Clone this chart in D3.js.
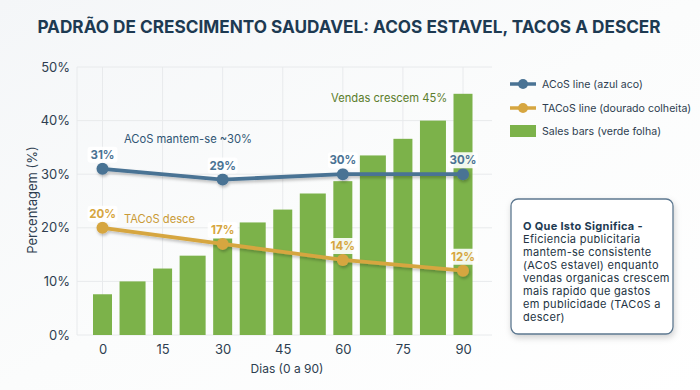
<!DOCTYPE html>
<html>
<head>
<meta charset="utf-8">
<script src="https://cdn.jsdelivr.net/npm/d3@7"></script>
<style>
html,body{margin:0;padding:0;}
body{width:700px;height:390px;overflow:hidden;background:#fff;}
svg{display:block;font-family:Inter,"Open Sans",sans-serif;}
</style>
</head>
<body>
<svg id="c" width="700" height="390"></svg>
<script>
// ---- data ----
const title = "PADRÃO DE CRESCIMENTO SAUDAVEL: ACOS ESTAVEL, TACOS A DESCER";
const barDays = [0, 7.5, 15, 22.5, 30, 37.5, 45, 52.5, 60, 67.5, 75, 82.5, 90];
const salesValues = [7.6, 10.0, 12.4, 14.8, 18.0, 21.0, 23.4, 26.4, 28.7, 33.5, 36.6, 40.0, 45.0];
const lineDays = [0, 30, 60, 90];
const acosValues = [31, 29, 30, 30];
const tacosValues = [20, 17, 14, 12];
const xTicks = [0, 15, 30, 45, 60, 75, 90];
const yTicks = [0, 10, 20, 30, 40, 50];
const legendLabels = ["ACoS line (azul aco)", "TACoS line (dourado colheita)", "Sales bars (verde folha)"];
const boxTitle = "O Que Isto Significa -";
const boxLines = ["Eficiencia publicitaria", "mantem-se consistente", "(ACoS estavel) enquanto", "vendas organicas crescem", "mais rapido que gastos", "em publicidade (TACoS a", "descer)"];

// ---- style ----
const C = {acos:"#4a7394", tacos:"#d6a640", bar:"#7cb24a", title:"#1d3a52", text:"#2e3e50", grid:"#e8eaec"};
const svg = d3.select("#c");
const defs = svg.append("defs");
const bg = defs.append("linearGradient").attr("id","bg").attr("x1","0").attr("y1","0").attr("x2","1").attr("y2","1");
bg.append("stop").attr("offset","0").attr("stop-color","#f4f6f8");
bg.append("stop").attr("offset","0.5").attr("stop-color","#fbfcfc");
bg.append("stop").attr("offset","1").attr("stop-color","#ffffff");
const sh = defs.append("filter").attr("id","sh").attr("x","-20%").attr("y","-50%").attr("width","140%").attr("height","200%");
sh.append("feDropShadow").attr("dx",1).attr("dy",2).attr("stdDeviation",1.6).attr("flood-color","#000").attr("flood-opacity",0.25);
const bsh = defs.append("filter").attr("id","bsh").attr("x","-20%").attr("y","-20%").attr("width","140%").attr("height","140%");
bsh.append("feDropShadow").attr("dx",1).attr("dy",3).attr("stdDeviation",3).attr("flood-color","#000").attr("flood-opacity",0.18);

svg.append("rect").attr("width",700).attr("height",390).attr("fill","url(#bg)");

const L = 77, R = 492;
const x = d3.scaleLinear().domain([0,90]).range([102.5,463]);
const y = d3.scaleLinear().domain([0,50]).range([335,67]);

// title
svg.append("text").attr("x",349).attr("y",33).attr("text-anchor","middle")
  .attr("font-size",17.2).attr("font-weight",700).attr("fill",C.title).text(title);

// grid
const g = svg.append("g");
g.selectAll(".hg").data(yTicks).join("line")
  .attr("x1",L).attr("x2",R).attr("y1",d=>y(d)).attr("y2",d=>y(d))
  .attr("stroke",C.grid).attr("stroke-width",1);
g.selectAll(".vg").data(xTicks).join("line")
  .attr("x1",d=>x(d)).attr("x2",d=>x(d)).attr("y1",y(50)).attr("y2",y(0))
  .attr("stroke",C.grid).attr("stroke-width",1);
g.append("line").attr("x1",L).attr("x2",L).attr("y1",y(50)).attr("y2",y(0)).attr("stroke",C.grid);

// axes
const yAxis = d3.axisLeft(y).tickValues(yTicks).tickFormat(d=>d+"%").tickSize(0).tickPadding(7);
const ya = svg.append("g").attr("transform",`translate(${L},0)`).call(yAxis);
const xAxis = d3.axisBottom(x).tickValues(xTicks).tickSize(0).tickPadding(10);
const xa = svg.append("g").attr("transform",`translate(0,${y(0)})`).call(xAxis);
[ya,xa].forEach(a=>{a.select(".domain").remove();
  a.selectAll("text").attr("font-size",13).attr("fill",C.text).attr("font-family","Inter,sans-serif");});

svg.append("text").attr("transform","translate(37,200) rotate(-90)").attr("text-anchor","middle")
  .attr("font-size",13).attr("fill",C.text).text("Percentagem (%)");
svg.append("text").attr("x",287).attr("y",373).attr("text-anchor","middle")
  .attr("font-size",12).attr("fill",C.text).text("Dias (0 a 90)");

// bars
svg.append("g").selectAll("rect").data(barDays).join("rect")
  .attr("x",(d)=>x(d)-(d%15===0?9.5:13))
  .attr("width",d=>d%15===0?19:26)
  .attr("y",(d,i)=>y(salesValues[i]))
  .attr("height",(d,i)=>y(0)-y(salesValues[i]))
  .attr("fill",C.bar);

// annotations
svg.append("text").attr("x",124).attr("y",143).attr("font-size",11.2).attr("fill","#2f5574").text("ACoS mantem-se ~30%");
svg.append("text").attr("x",124).attr("y",223).attr("font-size",11.2).attr("fill","#c99a36").text("TACoS desce");
svg.append("text").attr("x",331).attr("y",102).attr("font-size",11.2).attr("fill","#5c7d2c").text("Vendas crescem 45%");

// lines
function drawSeries(vals,color){
  const line = d3.line().x((d,i)=>x(lineDays[i])).y(d=>y(d));
  const gg = svg.append("g").attr("filter","url(#sh)");
  gg.append("path").datum(vals).attr("d",line).attr("fill","none").attr("stroke",color).attr("stroke-width",3.8);
  gg.selectAll("circle").data(vals).join("circle")
    .attr("cx",(d,i)=>x(lineDays[i])).attr("cy",d=>y(d)).attr("r",6).attr("fill",color);
  const lg = svg.append("g");
  vals.forEach((v,i)=>{
    const cx = x(lineDays[i]), cy = y(v)-14;
    lg.append("rect").attr("x",cx-15).attr("y",cy-8).attr("width",30).attr("height",16).attr("rx",3)
      .attr("fill","#fff").attr("fill-opacity",0.9);
    lg.append("text").attr("x",cx).attr("y",cy+4.2).attr("text-anchor","middle")
      .attr("font-size",11.5).attr("font-weight",700).attr("fill",color).text(v+"%");
  });
}
drawSeries(tacosValues,C.tacos);
drawSeries(acosValues,C.acos);

// legend
const lgd = svg.append("g");
const ly = [84,108,131];
[C.acos,C.tacos].forEach((c,i)=>{
  lgd.append("line").attr("x1",510).attr("x2",536).attr("y1",ly[i]).attr("y2",ly[i]).attr("stroke",c).attr("stroke-width",3.5);
  lgd.append("circle").attr("cx",523).attr("cy",ly[i]).attr("r",5).attr("fill",c);
});
lgd.append("rect").attr("x",510).attr("y",ly[2]-6).attr("width",26).attr("height",12).attr("fill",C.bar);
legendLabels.forEach((t,i)=>{
  lgd.append("text").attr("x",542).attr("y",ly[i]+4).attr("font-size",10.6).attr("fill",C.text).text(t);
});

// info box
svg.append("rect").attr("x",511).attr("y",199).attr("width",162).attr("height",135).attr("rx",7)
  .attr("fill","#fff").attr("stroke","#5d7890").attr("stroke-width",1.3).attr("filter","url(#bsh)");
const bt = svg.append("text").attr("font-size",11).attr("letter-spacing",0.3).attr("fill","#243443");
bt.append("tspan").attr("x",523).attr("y",230).attr("font-weight",700).attr("fill","#1d3a52").text(boxTitle);
boxLines.forEach((t,i)=>{
  bt.append("tspan").attr("x",523).attr("y",243+i*13).text(t);
});
</script>
</body>
</html>
